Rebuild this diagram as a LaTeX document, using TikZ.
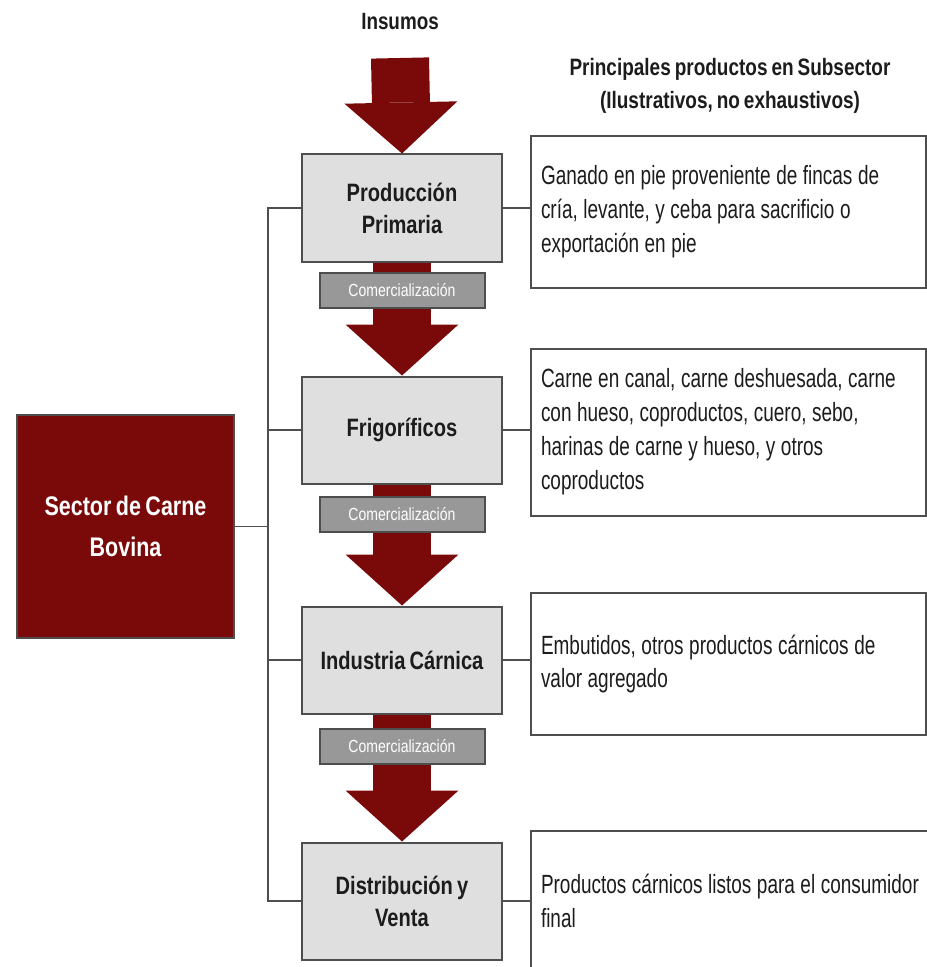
\documentclass[tikz,border=0pt]{standalone}
\usepackage{fontspec}
\setmainfont{Liberation Sans}[FakeStretch=0.8, WordSpace=0.75]
\newfontfamily\estrecha{Liberation Sans}[FakeStretch=0.72]
\usepackage{xcolor}
\usepackage{tikz}
\usetikzlibrary{arrows.meta}

\definecolor{vino}{RGB}{122,10,10}
\definecolor{grisclaro}{RGB}{223,223,223}
\definecolor{grismedio}{RGB}{152,152,152}
\definecolor{borde}{RGB}{78,78,78}
\definecolor{texto}{RGB}{28,28,28}

\begin{document}
\begin{tikzpicture}[x=0.2mm, y=-0.2mm, text=texto,
  etapa/.style={draw=borde, line width=0.4mm, fill=grisclaro, minimum width=40mm,
    minimum height=21.4mm, align=center, font=\fontsize{14.3}{18.2}\selectfont\bfseries},
  banda/.style={draw=borde, line width=0.4mm, fill=grismedio, minimum width=33mm,
    minimum height=7mm, text=white, font=\fontsize{10}{12}\selectfont},
  prod/.style={draw=borde, line width=0.4mm, fill=white, anchor=west, minimum width=79mm,
    text width=75mm, inner xsep=2mm, align=left, font=\estrecha\fontsize{15}{19.3}\selectfont,
    execute at begin node={\spaceskip=0.21em plus 0.05em\relax\hyphenpenalty=10000\relax}},
  flecha/.style={draw=vino, line width=11.6mm,
    -{Triangle[length=10.2mm, width=22.6mm, line width'=0pt]}},
  rama/.style={draw=borde, line width=0.3mm}]
\useasboundingbox (0,0) rectangle (926,967);

% etapas de la cadena
\node (ins) at (400,22) {\fontsize{13.4}{16}\selectfont\bfseries Insumos};
\coordinate (top) at (400,58);
\node[etapa] (pp) at (402,208) {Producción\\Primaria};
\node[etapa] (fr) at (402,430) {Frigoríficos};
\node[etapa] (ic) at (402,660) {Industria Cárnica};
\node[etapa, minimum height=23.4mm] (dv) at (402,901) {Distribución y\\Venta};

\draw[flecha] (top) -- (pp.north);
\draw[flecha] (pp.south) -- (fr.north);
\draw[flecha] (fr.south) -- (ic.north);
\draw[flecha] (ic.south) -- (dv.north);

\node[banda] (c1) at (402,290) {Comercialización};
\node[banda] (c2) at (402,514) {Comercialización};
\node[banda] (c3) at (402,746) {Comercialización};

% sector
\node[draw=borde, line width=0.3mm, fill=vino, text=white, minimum width=43.4mm,
  minimum height=44.6mm, align=center, font=\fontsize{15.3}{23}\selectfont\bfseries]
  (sec) at (125.5,526.5) {Sector de Carne\\Bovina};
\coordinate (bus) at (268,0);
\draw[rama] (pp.west) -- (pp.west -| bus) -- (dv.west -| bus) -- (dv.west);
\draw[rama] (fr.west) -- (fr.west -| bus);
\draw[rama] (ic.west) -- (ic.west -| bus);
\draw[rama] (sec.east) -- (sec.east -| bus);

% productos
\node[align=center, font=\fontsize{13.5}{18.7}\selectfont\bfseries] (tit) at (730,86)
  {Principales productos en Subsector\\(Ilustrativos, no exhaustivos)};
\node[prod, minimum height=30.2mm] (p1) at (530,212)
  {Ganado en pie proveniente de fincas de\\cría, levante, y ceba para sacrificio o\\exportación en pie};
\node[prod, minimum height=33.4mm] (p2) at (530,432)
  {Carne en canal, carne deshuesada, carne\\con hueso, coproductos, cuero, sebo,\\harinas de carne y hueso, y otros\\coproductos};
\node[prod, minimum height=28.4mm] (p3) at (530,664)
  {Embutidos, otros productos cárnicos de\\valor agregado};
\node[prod, minimum height=28mm, minimum width=84mm, text width=80mm] (p4) at (530,901)
  {Productos cárnicos listos para el consumidor\\final};

\draw[rama] (pp.east) -- (pp.east -| p1.west);
\draw[rama] (fr.east) -- (fr.east -| p2.west);
\draw[rama] (ic.east) -- (ic.east -| p3.west);
\draw[rama] (dv.east) -- (dv.east -| p4.west);
\end{tikzpicture}
\end{document}
